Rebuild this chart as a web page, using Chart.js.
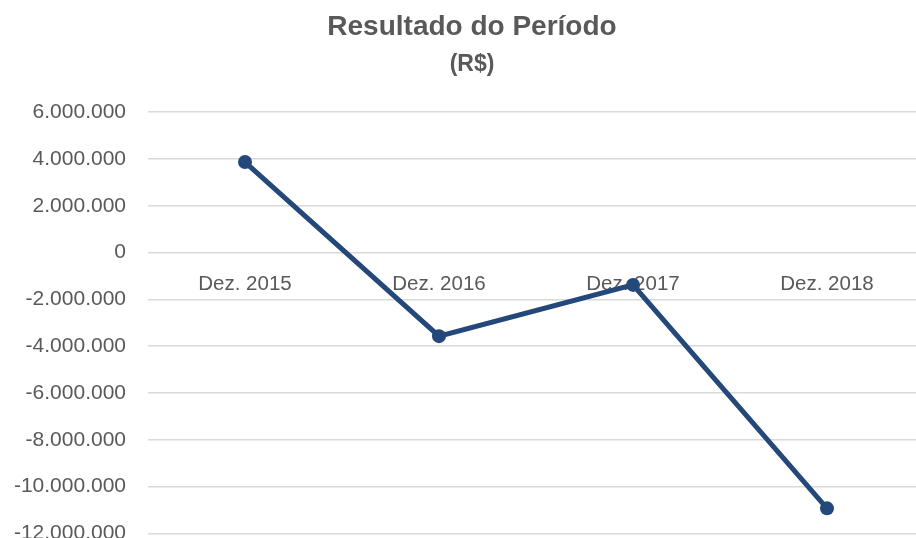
<!DOCTYPE html>
<html>
<head>
<meta charset="utf-8">
<script src="https://cdn.jsdelivr.net/npm/chart.js@4/dist/chart.umd.min.js"></script>
<style>
  html, body { margin: 0; padding: 0; background: #ffffff; overflow: hidden; }
  #c { display: block; width: 944px; height: 568px; }
</style>
</head>
<body>
<canvas id="c" width="944" height="568"></canvas>
<script>
const categories = ["Dez. 2015", "Dez. 2016", "Dez. 2017", "Dez. 2018"];
const resultado = [3870000, -3570000, -1380000, -10930000];
const yMin = -12000000;
const yMax = 6000000;
const yStep = 2000000;

function fmt(v) {
  const s = Math.abs(v).toString().replace(/\B(?=(\d{3})+(?!\d))/g, ".");
  return (v < 0 ? "-" : "") + s;
}

const gray = "#595959";
new Chart(document.getElementById("c"), {
  type: "line",
  data: {
    labels: categories,
    datasets: [{
      data: resultado,
      borderColor: "#24487a",
      backgroundColor: "#24487a",
      borderWidth: 5,
      pointRadius: 7,
      pointHoverRadius: 7,
      pointBorderWidth: 0,
      tension: 0,
      fill: false
    }]
  },
  options: {
    responsive: false,
    animation: false,
    layout: { padding: { left: 0, right: 0, top: 0, bottom: 28 } },
    plugins: {
      legend: { display: false },
      tooltip: { enabled: false },
      title: {
        display: true,
        text: "Resultado do Período",
        color: gray,
        font: { family: "'Liberation Sans', Arial, sans-serif", size: 28, weight: "bold" },
        padding: { top: 10, bottom: 7 }
      },
      subtitle: {
        display: true,
        text: "(R$)",
        color: gray,
        font: { family: "'Liberation Sans', Arial, sans-serif", size: 23, weight: "bold" },
        padding: { top: 0, bottom: 34 }
      }
    },
    scales: {
      x: {
        position: { y: 0 },
        offset: true,
        grid: { display: false, drawTicks: false },
        border: { display: false },
        ticks: {
          color: gray,
          padding: 19,
          font: { family: "'Liberation Sans', Arial, sans-serif", size: 20.5 }
        }
      },
      y: {
        min: yMin,
        max: yMax,
        afterFit: (s) => { s.width = 148; },
        grid: { color: "#d9d9d9", lineWidth: 1.5, drawTicks: false },
        border: { display: false },
        ticks: {
          stepSize: yStep,
          color: gray,
          padding: 22,
          font: { family: "'Liberation Sans', Arial, sans-serif", size: 21 },
          callback: (v) => fmt(v)
        }
      },
      yRight: {
        position: "right",
        display: true,
        afterFit: (s) => { s.width = 20; },
        grid: { display: false, drawTicks: false },
        border: { display: false },
        ticks: { display: false }
      }
    }
  }
});
</script>
</body>
</html>
